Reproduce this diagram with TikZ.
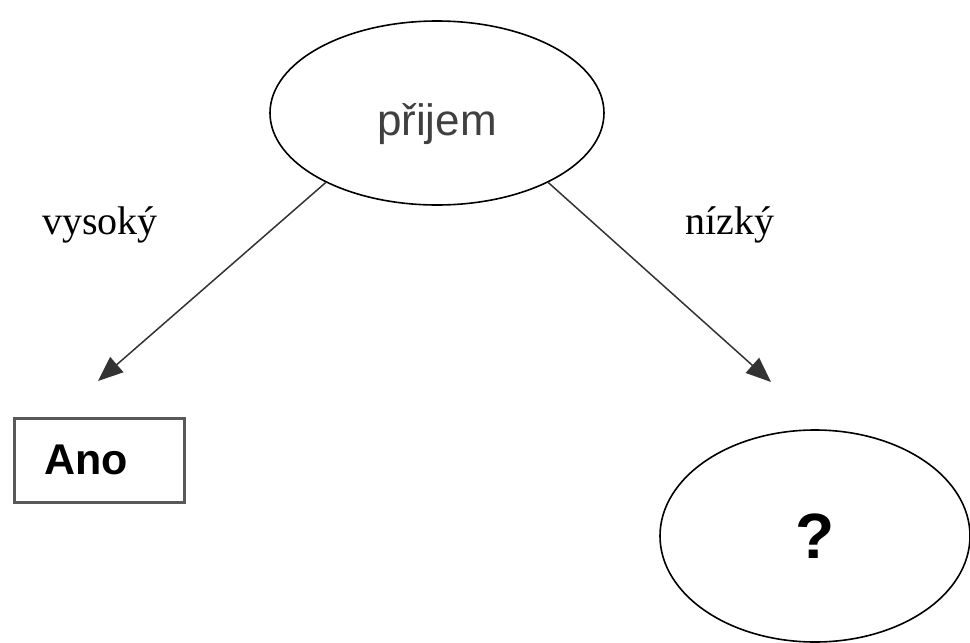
\documentclass[tikz,border=0pt]{standalone}
\usepackage{fontspec}
\setmainfont{Liberation Serif}
\setsansfont{Liberation Sans}
\usetikzlibrary{shapes.geometric,arrows.meta}

\tikzset{
  question/.style={ellipse,draw,line width=1.6pt,inner sep=0pt},
  answer/.style={rectangle,draw=black!65,line width=3pt,inner ysep=0pt,
    inner xsep=30pt,text width=110pt,minimum height=84pt,align=left,
    font=\sffamily\bfseries\fontsize{43}{48}\selectfont},
  branch/.style={line width=1.5pt,draw=black!80,-{Triangle[length=25pt,width=20pt]}},
  edgelabel/.style={font=\rmfamily\fontsize{40}{46}\selectfont}
}

\begin{document}
\begin{tikzpicture}[x=1pt,y=-1pt]
  \useasboundingbox (0,0) rectangle (970,643);
  \node[question,minimum width=334pt,minimum height=184pt,text height=54pt,
    text=black!75,font=\sffamily\fontsize{44}{50}\selectfont] (prijem) at (437,113) {přijem};
  \node[answer,anchor=west] (ano) at (13,460) {Ano};
  \node[question,minimum width=310pt,minimum height=212pt,
    font=\sffamily\bfseries\fontsize{64}{70}\selectfont] (otazka) at (815,536) {?};
  \coordinate (tipL) at (98,381);
  \coordinate (tipR) at (771,382);
  \draw[branch] (prijem.212) -- (tipL);
  \draw[branch] (prijem.328) -- (tipR);
  \node[edgelabel] (vysoky) at (100,225) {vysoký};
  \node[edgelabel] (nizky) at (730,225) {nízký};
\end{tikzpicture}
\end{document}
